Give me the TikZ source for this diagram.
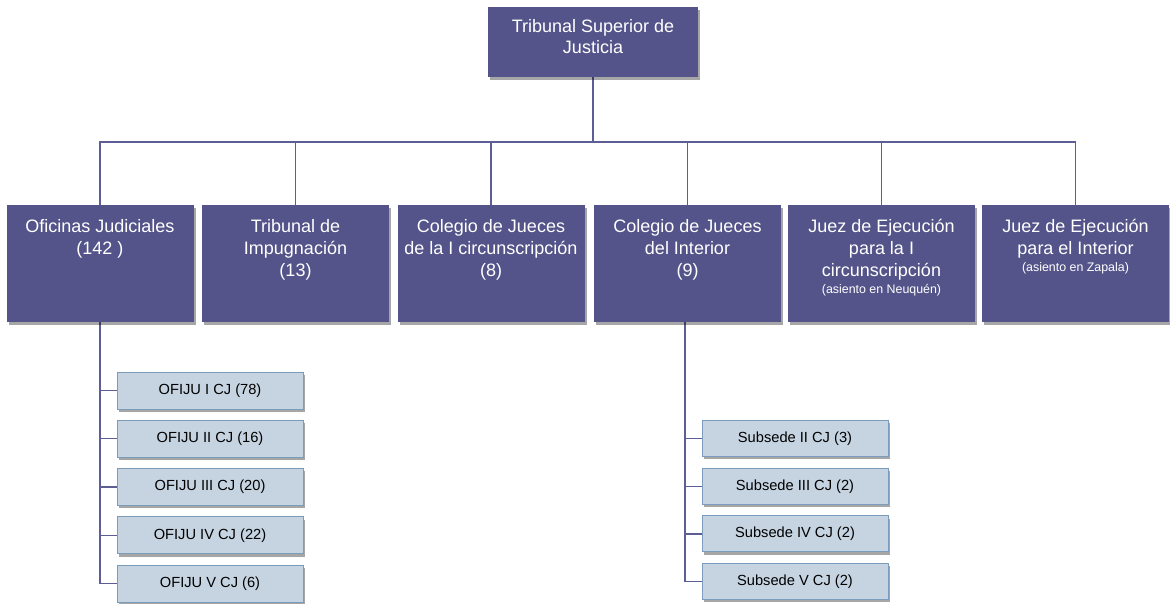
\documentclass[tikz,border=0pt]{standalone}
\usepackage{fontspec}
\setmainfont{Liberation Sans}
\usetikzlibrary{positioning,shadows,backgrounds}
\definecolor{nodoazul}{RGB}{84,84,138}
\definecolor{lineaazul}{RGB}{94,94,150}
\definecolor{subfondo}{RGB}{198,212,226}
\definecolor{subborde}{RGB}{124,156,190}
\tikzset{
  sombra/.style={drop shadow={shadow xshift=1.5pt,shadow yshift=-2pt,fill=black,opacity=.35}},
  organo/.style={fill=nodoazul,inner sep=0pt,minimum width=140.25pt,minimum height=87.75pt,sombra},
  titulo/.style={text=white,align=center,inner sep=0pt,font=\fontsize{13.5}{16.5}\selectfont},
  oficina/.style={fill=subfondo,draw=subborde,line width=.75pt,minimum width=139.5pt,minimum height=27.75pt,inner sep=0pt,font=\fontsize{11}{13}\selectfont,sombra},
  rama/.style={draw=lineaazul,line width=1pt}
}
\newcommand\chico{\fontsize{9.3}{11}\selectfont}
\begin{document}
\begin{tikzpicture}[x=0.75pt,y=-0.75pt]
\useasboundingbox (0,0) rectangle (1170,603);
% cabeza
\node[organo,minimum width=157.5pt,minimum height=52.5pt] (tsj) at (593,42) {};
\node[titulo,font=\fontsize{13.5}{15.5}\selectfont,below=9.5pt of tsj.north] (ttsj) {Tribunal Superior de\\Justicia};
% segundo nivel
\node[organo] (ofi) at (100,263.5) {};
\node[organo] (tri) at (295.5,263.5) {};
\node[organo] (cj1) at (491,263.5) {};
\node[organo] (cji) at (687.5,263.5) {};
\node[organo] (ej1) at (881.5,263.5) {};
\node[organo] (eji) at (1075.5,263.5) {};
\node[titulo,below=10.5pt of ofi.north] (tofi) {Oficinas Judiciales\\(142 )};
\node[titulo,below=10.5pt of tri.north] (ttri) {Tribunal de\\Impugnación\\(13)};
\node[titulo,below=10.5pt of cj1.north] (tcj1) {Colegio de Jueces\\de la I circunscripción\\(8)};
\node[titulo,below=10.5pt of cji.north] (tcji) {Colegio de Jueces\\del Interior\\(9)};
\node[titulo,below=10.5pt of ej1.north] (tej1) {Juez de Ejecución\\para la I\\circunscripción\\[-3.5pt]{\chico (asiento en Neuquén)}};
\node[titulo,below=10.5pt of eji.north] (teji) {Juez de Ejecución\\para el Interior\\[-3.5pt]{\chico (asiento en Zapala)}};
% oficinas y subsedes
\foreach \i/\r/\c in {1/I/78,2/II/16,3/III/20,4/IV/22,5/V/6}
  \node[oficina] (of\i) at (210,{390.5+48.3*(\i-1)}) {OFIJU {\r} CJ (\c)};
\foreach \i/\r/\c in {1/II/3,2/III/2,3/IV/2,4/V/2}
  \node[oficina,minimum height=27pt] (sub\i) at (795,{438.5+47.7*(\i-1)}) {Subsede {\r} CJ (\c)};
% lineas
\begin{scope}[on background layer]
\coordinate (bus) at (593,142);
\foreach \n in {ofi,tri,cj1,cji,ej1,eji}
  \draw[rama] (tsj.south) |- (bus) -| (\n.north);
\foreach \i in {1,...,5} \draw[rama] (ofi.south) |- (of\i.west);
\foreach \i in {1,...,4} \draw[rama] ([xshift=-1.9pt]cji.south) |- (sub\i.west);
\end{scope}
\end{tikzpicture}
\end{document}
